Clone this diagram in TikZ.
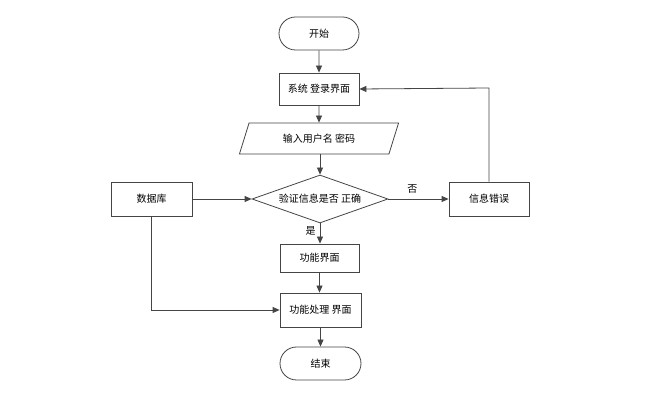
\documentclass[tikz,border=0pt]{standalone}
\usepackage{fontspec}
\setmainfont{Noto Sans CJK SC}
\usetikzlibrary{arrows.meta,shapes.geometric,shapes.misc}
\definecolor{ln}{HTML}{454545}
\tikzset{
  base/.style={draw=ln,line width=0.8pt,fill=white,font=\fontsize{10}{12}\selectfont,inner sep=0pt},
  procbox/.style={base,rectangle,minimum width=80pt,minimum height=32pt},
  term/.style={base,rounded rectangle,minimum width=80pt,minimum height=33pt},
  iobox/.style={base,trapezium,trapezium left angle=62,trapezium right angle=118,minimum width=160pt,minimum height=31pt,trapezium stretches=true},
  decision/.style={base,diamond,minimum width=136pt,minimum height=48pt,aspect=2.8},
  conn/.style={draw=ln,line width=0.8pt,-{Triangle[length=7pt,width=6pt]}},
  lbl/.style={font=\fontsize{10}{12}\selectfont,inner sep=0pt}
}
\begin{document}
\begin{tikzpicture}[x=1pt,y=-1pt]
\useasboundingbox (0,0) rectangle (649,395);
\node[term] (start) at (319,33.5) {开始};
\node[procbox] (login) at (319,89) {系统 登录界面};
\node[iobox] (input) at (319,138.5) {输入用户名 密码};
\node[decision] (check) at (320,199) {验证信息是否 正确};
\node[procbox,minimum width=81pt,minimum height=34pt] (db) at (151.5,199) {数据库};
\node[procbox,minimum width=80pt,minimum height=34pt] (err) at (489,199) {信息错误};
\node[procbox,minimum width=79pt,minimum height=28pt] (func) at (319.5,258) {功能界面};
\node[procbox,minimum width=81pt,minimum height=34pt] (proc) at (320.5,310) {功能处理 界面};
\node[term,minimum width=81pt] (end) at (320.5,363.5) {结束};
\coordinate (errtop) at (489,88);
\coordinate (dbcorner) at (151.5,310);
\draw[conn] (start) -- (login);
\draw[conn] (login) -- (input);
\draw[conn] (input.south -| check.north) -- (check.north);
\draw[conn] (db) -- (check.west);
\draw[conn] (check.east) -- node[lbl,above=5pt,pos=0.4] (no) {否} (err);
\draw[conn] (err.north) -- (errtop) -- (login.east);
\draw[conn] (check.south) -- node[lbl,left=4pt,pos=0.35] (yes) {是} (func.north -| check.south);
\draw[conn] (func.south) -- (proc.north -| func.south);
\draw[conn] (db.south) -- (dbcorner) -- (proc.west);
\draw[conn] (proc.south -| end.north) -- (end.north);
\end{tikzpicture}
\end{document}
